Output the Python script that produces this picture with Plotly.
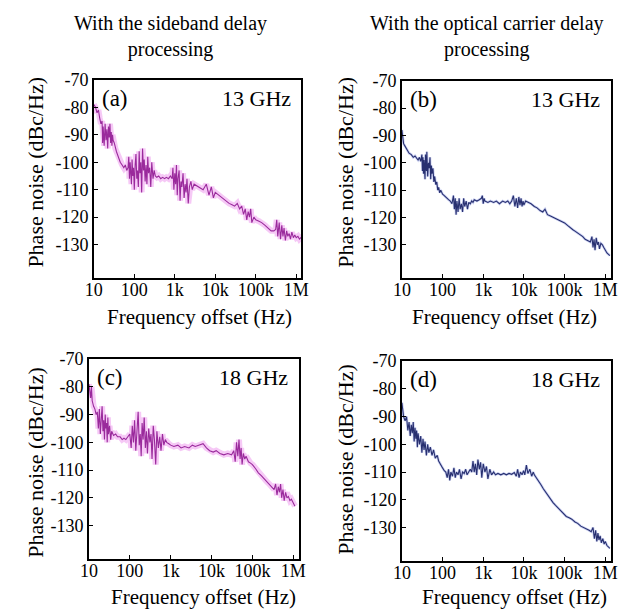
import plotly.graph_objects as go

# ---------------- data ----------------
x_tick_vals = [10, 100, 1e3, 1e4, 1e5, 1e6]
x_tick_text = ["10", "100", "1k", "10k", "100k", "1M"]
y_tick_vals = [-70, -80, -90, -100, -110, -120, -130]
y_tick_text = ["-70", "-80", "-90", "-100", "-110", "-120", "-130"]

col_titles = ["With the sideband delay<br>processing",
              "With the optical carrier delay<br>processing"]
panel_labels = ["(a)", "(b)", "(c)", "(d)"]
carrier_labels = ["13 GHz", "13 GHz", "18 GHz", "18 GHz"]

freq_a = [10, 11, 12, 13, 14, 15, 16, 16.5, 17, 18, 19, 20, 21, 22, 23, 24, 25, 26, 27, 28, 29, 30,
          32, 34, 36, 38, 40, 45, 50, 55, 60, 65, 70, 73, 76, 79, 82, 85, 88, 92, 96, 100, 105, 110,
          115, 120, 126, 132, 138, 145, 152, 160, 168, 176, 185, 195, 205, 215, 225, 240, 255, 270,
          290, 310, 330, 360, 400, 450, 500, 560, 620, 700, 780, 860, 900, 950, 1000, 1050, 1100,
          1150, 1200, 1280, 1350, 1420, 1500, 1600, 1700, 1800, 1900, 2000, 2150, 2300, 2500, 2700,
          3000, 3400, 4000, 5000, 6000, 7000, 8000, 9000, 10000, 12000, 15000, 18000, 22000, 26000,
          30000, 35000, 40000, 45000, 50000, 55000, 60000, 65000, 70000, 75000, 80000, 90000, 100000,
          120000, 140000, 170000, 200000, 240000, 280000, 310000, 330000, 350000, 380000, 410000,
          440000, 470000, 500000, 540000, 580000, 620000, 670000, 720000, 780000, 850000, 920000,
          1000000, 1100000, 1200000, 1300000, 1400000]
pn_a = [-79, -80, -82, -81, -84, -86, -85, -93, -87, -94, -86, -92, -88, -95, -87, -91, -86, -93, -89,
        -94, -90, -92, -93, -95, -96, -97, -98, -100, -101, -102, -101, -103, -102, -98, -106, -100,
        -104, -108, -99, -105, -102, -110, -101, -97, -106, -103, -109, -96, -104, -100, -111, -95,
        -103, -99, -107, -101, -108, -98, -104, -102, -109, -100, -106, -103, -105, -105.5, -105,
        -106, -105.5, -106, -105.5, -106, -105, -106, -102, -110, -104, -108, -101, -112, -106, -103,
        -114, -107, -109, -104, -113, -108, -111, -106, -115, -109, -107, -110, -108, -108.5, -109,
        -110, -108, -112, -109, -113, -111, -112, -113, -114, -115, -115.5, -116, -115, -117, -116,
        -119, -117, -121, -118, -120, -117, -122, -120, -121, -121.5, -122, -123, -124, -125, -125,
        -124.5, -121, -127, -122, -128, -123, -127, -124, -128.5, -125, -127, -126, -128, -125.5,
        -127.5, -126.5, -127.5, -127, -128, -127.5, -127.8]

freq_b = [10, 10.5, 11, 12, 13, 14, 15, 17, 19, 21, 23, 25, 27, 29, 31, 32, 33, 34, 35, 37, 38, 40,
          41, 43, 45, 47, 49, 51, 53, 55, 58, 61, 64, 68, 72, 76, 80, 85, 90, 100, 110, 125, 140, 155,
          170, 185, 195, 205, 215, 225, 240, 255, 270, 290, 310, 330, 350, 380, 410, 440, 480, 520,
          560, 600, 700, 800, 900, 950, 1000, 1050, 1100, 1300, 1500, 1800, 2100, 2500, 3000, 3500,
          4000, 4500, 5000, 5500, 6000, 6500, 7000, 7500, 8000, 8500, 9000, 9500, 10000, 11000, 13000,
          15000, 18000, 21000, 25000, 29000, 33000, 38000, 45000, 52000, 60000, 70000, 80000, 100000,
          120000, 140000, 160000, 180000, 200000, 240000, 280000, 320000, 380000, 430000, 470000,
          500000, 530000, 560000, 600000, 640000, 680000, 720000, 780000, 850000, 920000, 1000000,
          1100000, 1200000, 1300000]
pn_b = [-88, -91, -93, -94, -95, -96, -96.5, -97, -98, -97.5, -98.5, -99, -98, -99.5, -97, -103, -98,
        -104, -99, -106, -97, -103, -96, -105, -100, -102, -98, -106, -101, -104, -102, -107, -105,
        -108, -107, -110, -109, -111, -110, -111.5, -112, -113, -113.5, -114, -115, -112, -117, -113,
        -119, -114, -118, -113, -117, -115, -118, -113, -116, -114, -117, -114.5, -115, -114, -114.5,
        -113.5, -114, -113.5, -113, -112, -115, -113, -114, -114.5, -114, -114.5, -114, -115, -114,
        -114.5, -114, -115, -114, -112, -116, -113, -116.5, -112.5, -115.5, -113, -116, -114, -115.5,
        -114, -114.5, -115, -116, -116.5, -117.5, -118, -117, -119, -119.5, -120, -120.5, -121,
        -121.5, -122, -123, -124, -124.5, -125, -125.5, -126.5, -127, -128, -128.5, -129, -127, -131,
        -128, -132, -127.5, -130, -129, -131.5, -129.5, -130, -131, -132, -133, -133.5, -134]

freq_c = [10, 10.5, 11, 11.5, 12, 13, 14, 15, 16, 17, 18, 19, 20, 21, 22, 23, 24, 25, 26, 27, 28, 29,
          30, 32, 34, 36, 40, 45, 50, 58, 65, 72, 80, 90, 100, 108, 115, 123, 131, 140, 150, 160, 170,
          180, 190, 200, 212, 225, 240, 255, 270, 290, 310, 330, 350, 375, 400, 430, 460, 500, 540,
          580, 630, 680, 740, 800, 900, 1000, 1200, 1500, 1800, 2200, 2800, 3400, 4000, 5000, 6200,
          7500, 9000, 11000, 13000, 16000, 20000, 25000, 31000, 35000, 38000, 41000, 44000, 47000,
          50000, 53000, 56000, 60000, 65000, 70000, 80000, 90000, 100000, 120000, 140000, 165000,
          190000, 220000, 260000, 300000, 340000, 370000, 400000, 430000, 460000, 490000, 520000,
          560000, 600000, 650000, 700000, 760000, 830000, 900000, 1000000, 1100000]
pn_c = [-79, -82, -84, -80, -85, -87, -88, -90, -89, -95, -88, -97, -91, -87, -96, -92, -99, -90, -95,
        -93, -100, -91, -97, -94, -99, -96, -97.5, -97, -98, -98, -99, -98.5, -99, -98, -97, -102,
        -94, -100, -92, -103, -96, -89, -101, -97, -105, -93, -99, -91, -102, -96, -104, -95, -100,
        -97, -106, -94, -99, -108, -96, -102, -98, -103, -97, -101, -99, -100, -100.5, -101, -101.5,
        -101, -102, -101.5, -102, -101, -101.5, -101, -100.5, -102, -103, -103.5, -103, -104, -104.5,
        -104, -104.5, -103, -107, -100, -105, -99, -106, -102, -108, -104, -106, -105, -107, -107.5,
        -108, -109.5, -111, -112, -113, -114, -115, -116, -117, -115, -119, -116, -118, -115, -120,
        -117, -121, -118, -120, -119.5, -121, -120.5, -122, -123]

freq_d = [10, 10.5, 11, 12, 13, 14, 15, 16, 17, 18, 19, 20, 21, 22, 23, 24, 25, 27, 29, 31, 33, 35,
          37, 40, 43, 46, 50, 55, 60, 66, 74, 80, 89, 100, 110, 120, 130, 140, 150, 160, 175, 190,
          205, 220, 240, 260, 285, 310, 340, 370, 400, 440, 480, 520, 560, 600, 640, 690, 740, 800,
          860, 920, 1000, 1100, 1200, 1300, 1450, 1600, 1800, 2000, 2300, 2700, 3200, 3700, 4300,
          5000, 5800, 6500, 7000, 7600, 8200, 9000, 9800, 10500, 11500, 12500, 14000, 15500, 17000,
          18000, 20000, 23000, 26000, 30000, 35000, 40000, 45000, 52000, 60000, 70000, 80000, 95000,
          110000, 130000, 150000, 180000, 210000, 250000, 300000, 350000, 400000, 450000, 500000,
          540000, 580000, 620000, 660000, 700000, 750000, 800000, 870000, 940000, 1000000, 1100000,
          1200000, 1300000]
pn_d = [-85, -88, -90, -91.5, -90, -95, -92, -97, -93, -96, -92, -99, -94, -98, -95, -101, -96, -100,
        -97, -103, -98, -102, -99, -104, -100, -103, -101, -104, -102, -105, -104, -106, -107.5,
        -108.5, -109.5, -110, -112, -109, -113, -110, -111.5, -108.5, -112, -110, -111, -109, -112.5,
        -110, -110.5, -109, -111, -110, -109, -110, -106, -110, -107, -111, -105.5, -109, -106.5,
        -112, -107, -110, -108, -112.5, -109, -111, -110, -111, -110.5, -111, -110.5, -111, -110.5,
        -110.8, -110.2, -111.5, -109, -112, -110, -111, -109.5, -111, -107.5, -110.5, -109, -111.5,
        -110, -111, -112, -113, -114.5, -116, -117.5, -118.5, -119.5, -121, -122, -123, -124, -125,
        -126, -126.5, -127, -128, -128.5, -129.5, -130, -130.5, -131, -131.5, -130, -134, -131, -135,
        -132, -134.5, -133, -135.5, -134, -136, -135, -136.5, -137, -137.5]

# ---------------- styling ----------------
FONT = "Liberation Serif, Times New Roman, serif"
MAG_LINE, MAG_GLOW = "#9a2a9c", "rgba(228,90,228,0.33)"
BLU_LINE, BLU_GLOW = "#283070", "rgba(70,90,210,0.28)"

panels = [
    dict(f=freq_a, p=pn_a, line=MAG_LINE, glow=MAG_GLOW, gw=6,
         xd=[87/639, 300/639], yd=[1-272/609, 1-71/609]),
    dict(f=freq_b, p=pn_b, line=BLU_LINE, glow=BLU_GLOW, gw=2.6,
         xd=[403/639, 617/639], yd=[1-272/609, 1-72/609]),
    dict(f=freq_c, p=pn_c, line=MAG_LINE, glow=MAG_GLOW, gw=6,
         xd=[82/639, 297/639], yd=[1-558/609, 1-355/609]),
    dict(f=freq_d, p=pn_d, line=BLU_LINE, glow=BLU_GLOW, gw=2.6,
         xd=[403/639, 617/639], yd=[1-560/609, 1-357/609]),
]

fig = go.Figure()
layout = dict(
    width=639, height=609,
    margin=dict(l=0, r=0, t=0, b=0),
    paper_bgcolor="white", plot_bgcolor="white",
    showlegend=False,
    font=dict(family=FONT, color="black"),
)
annotations = []

for i, pn in enumerate(panels):
    n = "" if i == 0 else str(i + 1)
    xa, ya = "x" + n, "y" + n
    fig.add_trace(go.Scatter(x=pn["f"], y=pn["p"], xaxis=xa, yaxis=ya, mode="lines",
                             line=dict(color=pn["glow"], width=pn["gw"]), hoverinfo="skip"))
    fig.add_trace(go.Scatter(x=pn["f"], y=pn["p"], xaxis=xa, yaxis=ya, mode="lines",
                             line=dict(color=pn["line"], width=1.1)))
    layout["xaxis" + n] = dict(
        domain=pn["xd"], anchor=ya, type="log", range=[1, 6.13],
        tickvals=x_tick_vals, ticktext=x_tick_text, ticks="inside", ticklen=4,
        tickcolor="black", showline=True, linecolor="black", linewidth=1.5, mirror=True,
        showgrid=False, zeroline=False, ticklabelstandoff=-5,
        tickfont=dict(family=FONT, size=18, color="black"))
    layout["yaxis" + n] = dict(
        domain=pn["yd"], anchor=xa, range=[-142, -70],
        tickvals=y_tick_vals, ticktext=y_tick_text, ticks="inside", ticklen=4,
        tickcolor="black", showline=True, linecolor="black", linewidth=1.5, mirror=True,
        showgrid=False, zeroline=False, tickfont=dict(family=FONT, size=18, color="black"))
    annotations.append(dict(text=panel_labels[i], xref=xa + " domain", yref=ya + " domain",
                            x=0.03, y=0.98, xanchor="left", yanchor="top", showarrow=False,
                            font=dict(family=FONT, size=23)))
    annotations.append(dict(text=carrier_labels[i], xref=xa + " domain", yref=ya + " domain",
                            x=0.96, y=0.98, xanchor="right", yanchor="top", showarrow=False,
                            font=dict(family=FONT, size=22)))

for (cx, cy) in [(195, 312), (508, 312), (200, 597), (518, 597)]:
    annotations.append(dict(text="Frequency offset (Hz)", xref="paper", yref="paper",
                            x=cx/639, y=1-cy/609, xanchor="center", yanchor="middle",
                            showarrow=False, font=dict(family=FONT, size=21)))
for (cx, cy) in [(27, 165), (345, 165), (27, 460), (345, 457)]:
    annotations.append(dict(text="Phase noise (dBc/Hz)", xref="paper", yref="paper",
                            x=cx/639, y=1-cy/609, xanchor="center", yanchor="middle",
                            textangle=-90, showarrow=False, font=dict(family=FONT, size=22)))
for (cx, t) in [(166, col_titles[0]), (490, col_titles[1])]:
    annotations.append(dict(text=t, xref="paper", yref="paper", x=cx/639, y=1.0,
                            xanchor="center", yanchor="top", showarrow=False,
                            font=dict(family=FONT, size=20)))

layout["annotations"] = annotations
fig.update_layout(**layout)
fig.write_html("out.html", config={"displayModeBar": False},
               post_script="document.body.style.margin='0';document.body.style.overflow='hidden';")
